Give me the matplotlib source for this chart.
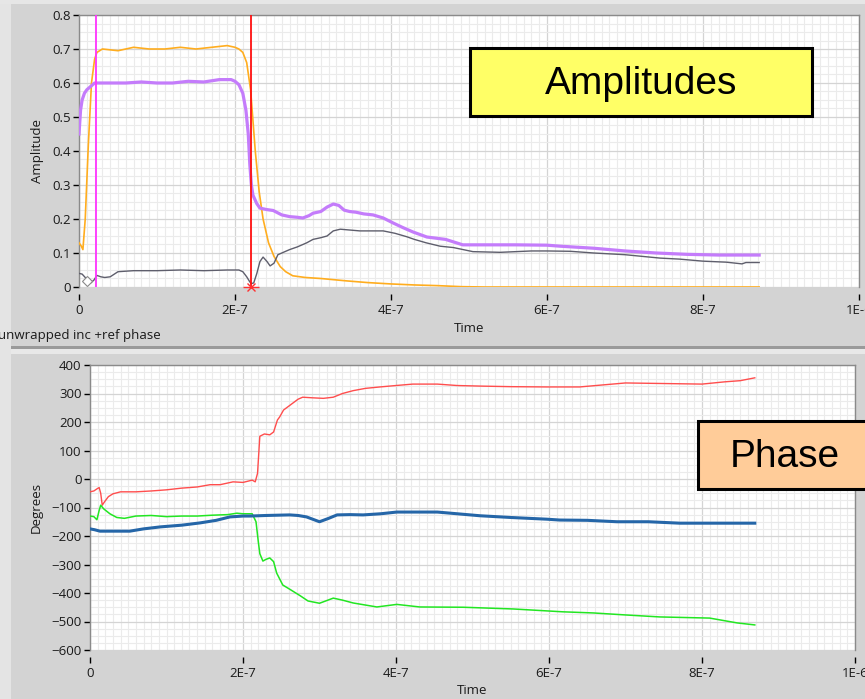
import matplotlib.pyplot as plt
import numpy as np
from matplotlib.patches import Rectangle
from matplotlib.ticker import MultipleLocator

# ---- amplitude traces (time in ns) ----
t_orange = [0, 3, 5, 8, 12, 16, 20, 23, 30, 50, 70, 90, 110, 130, 150, 170, 190, 200, 205,
            210, 215, 220, 226, 231, 236, 243, 250, 258, 265, 274, 290, 310, 343, 370, 400,
            430, 460, 490, 520, 872]
amp_orange = [0.13, 0.12, 0.11, 0.2, 0.42, 0.6, 0.67, 0.69, 0.70, 0.695, 0.705, 0.70, 0.70,
              0.705, 0.70, 0.705, 0.71, 0.705, 0.70, 0.69, 0.66, 0.58, 0.40, 0.28, 0.20, 0.13,
              0.09, 0.06, 0.045, 0.033, 0.028, 0.025, 0.018, 0.013, 0.009, 0.006, 0.004,
              0.001, 0.0, 0.0]

t_purple = [0, 2, 4, 7, 10, 15, 20, 25, 40, 60, 80, 100, 120, 140, 160, 180, 195, 200, 205,
            210, 214, 217, 219, 221, 223, 228, 232, 240, 249, 260, 270, 280, 287, 295, 300,
            310, 318, 326, 333, 340, 347, 355, 365, 377, 390, 403, 415, 428, 446, 470, 492,
            520, 560, 600, 617, 660, 700, 740, 780, 820, 872]
amp_purple = [0.45, 0.52, 0.55, 0.57, 0.58, 0.59, 0.60, 0.60, 0.60, 0.60, 0.603, 0.60, 0.60,
              0.605, 0.603, 0.61, 0.61, 0.605, 0.595, 0.57, 0.52, 0.45, 0.36, 0.30, 0.27,
              0.245, 0.232, 0.228, 0.225, 0.212, 0.207, 0.205, 0.203, 0.21, 0.217, 0.222,
              0.235, 0.244, 0.24, 0.226, 0.222, 0.22, 0.215, 0.212, 0.203, 0.188, 0.175,
              0.162, 0.147, 0.14, 0.124, 0.124, 0.124, 0.123, 0.12, 0.114, 0.106, 0.1,
              0.096, 0.094, 0.094]

t_gray = [0, 4, 8, 12, 15, 19, 23, 28, 33, 40, 50, 70, 100, 130, 160, 190, 205, 210, 215,
          219, 221, 224, 228, 232, 236, 241, 245, 250, 255, 260, 270, 280, 292, 300, 310,
          318, 326, 335, 345, 360, 375, 390, 405, 420, 430, 445, 463, 480, 505, 540, 580,
          600, 630, 660, 700, 745, 770, 800, 830, 850, 855, 872]
amp_gray = [0.04, 0.038, 0.028, 0.015, 0.012, 0.02, 0.034, 0.03, 0.028, 0.03, 0.045, 0.048,
            0.048, 0.05, 0.048, 0.05, 0.05, 0.045, 0.03, 0.015, 0.01, 0.012, 0.04, 0.075,
            0.088, 0.075, 0.062, 0.07, 0.095, 0.10, 0.11, 0.118, 0.13, 0.14, 0.145, 0.15,
            0.165, 0.17, 0.168, 0.165, 0.165, 0.165, 0.158, 0.148, 0.14, 0.13, 0.12, 0.116,
            0.104, 0.102, 0.106, 0.106, 0.105, 0.1, 0.095, 0.085, 0.082, 0.076, 0.073,
            0.068, 0.072, 0.072]

# cursor positions (ns)
cursor_magenta = 22
cursor_red = 220

# ---- phase traces (time in ns, degrees) ----
t_red = [0, 5, 10, 12, 14, 16, 19, 24, 30, 40, 60, 80, 100, 120, 140, 157, 170, 187, 200,
         212, 216, 219, 222, 228, 235, 240, 245, 248, 253, 261, 266, 272, 278, 290, 305,
         318, 330, 344, 360, 379, 400, 422, 454, 480, 510, 550, 597, 640, 700, 750, 800,
         830, 850, 869]
deg_red = [-45, -42, -33, -30, -50, -92, -80, -62, -52, -45, -45, -42, -38, -32, -28, -20,
           -20, -10, -12, -4, -10, 20, 150, 158, 155, 165, 207, 218, 242, 258, 268, 280,
           287, 285, 283, 287, 300, 310, 318, 323, 328, 333, 333, 328, 326, 324, 323, 323,
           337, 335, 333, 341, 345, 355]

t_green = [0, 5, 9, 12, 14, 18, 26, 35, 45, 60, 80, 100, 120, 140, 160, 180, 192, 200, 212,
           217, 220, 222, 226, 230, 235, 240, 244, 252, 260, 266, 275, 285, 300, 318, 330,
           344, 375, 401, 431, 488, 553, 618, 658, 700, 745, 810, 846, 869]
deg_green = [-130, -132, -143, -110, -92, -105, -122, -135, -138, -130, -128, -132, -130,
             -130, -127, -125, -120, -122, -122, -150, -220, -262, -288, -282, -277, -290,
             -330, -372, -385, -395, -410, -428, -436, -418, -425, -435, -449, -440, -449,
             -450, -456, -466, -470, -477, -484, -488, -505, -512]

t_blue = [0, 6, 13, 30, 52, 70, 92, 120, 144, 165, 183, 200, 209, 230, 261, 272, 283, 292,
          300, 312, 323, 340, 357, 380, 401, 430, 454, 480, 510, 550, 597, 614, 650, 689,
          730, 771, 800, 869]
deg_blue = [-175, -178, -183, -183, -183, -175, -168, -162, -154, -145, -133, -130, -130,
            -128, -126, -128, -133, -142, -150, -138, -126, -125, -126, -122, -116, -116,
            -116, -122, -129, -135, -141, -144, -145, -150, -150, -155, -155, -155]

x_ticks = [0, 2e-7, 4e-7, 6e-7, 8e-7, 1e-6]
x_ticklabels = ['0', '2E-7', '4E-7', '6E-7', '8E-7', '1E-6']
amp_ticks = [0, 0.1, 0.2, 0.3, 0.4, 0.5, 0.6, 0.7, 0.8]
amp_ticklabels = ['0', '0.1', '0.2', '0.3', '0.4', '0.5', '0.6', '0.7', '0.8']
deg_ticks = [-600, -500, -400, -300, -200, -100, 0, 100, 200, 300, 400]

W, H = 865, 699
plt.rcParams['font.family'] = ['Open Sans', 'DejaVu Sans']
fig = plt.figure(figsize=(W / 100, H / 100), dpi=100, facecolor='#d3d3d3')


def px_rect(x0, y0, x1, y1, **kw):
    # rectangle given in pixel coords (origin top-left)
    r = Rectangle((x0 / W, 1 - y1 / H), (x1 - x0) / W, (y1 - y0) / H,
                  transform=fig.transFigure, **kw)
    fig.add_artist(r)
    return r


# panel chrome
px_rect(0, 0, 11, H, facecolor='#e4e4e4', edgecolor='none', zorder=0)
px_rect(0, 0, W, 4, facecolor='#e6e6e6', edgecolor='none', zorder=0)
px_rect(11, 346, W, 349, facecolor='#9a9a9a', edgecolor='none', zorder=0)
px_rect(11, 349, W, 354, facecolor='#e8e8e8', edgecolor='none', zorder=0)


def style_axes(ax):
    ax.set_facecolor('white')
    ax.xaxis.set_minor_locator(MultipleLocator(1e-8))
    ax.grid(which='major', color='#d4d4d4', lw=0.9)
    ax.grid(which='minor', color='#ebebeb', lw=0.8)
    ax.set_axisbelow(True)
    for s in ['top', 'right', 'left']:
        ax.spines[s].set_color('#8a8a8a')
        ax.spines[s].set_linewidth(1.0)
    ax.spines['bottom'].set_position(('outward', 5))
    ax.spines['bottom'].set_visible(False)
    ax.set_xticks(x_ticks)
    ax.set_xticklabels(x_ticklabels)
    ax.set_xlim(0, 1e-6)
    ax.tick_params(axis='both', which='major', labelsize=9.5, color='black',
                   direction='out', length=4, width=1, pad=2, labelcolor='#1a1a1a')
    ax.tick_params(axis='both', which='minor', length=0)
    ax.tick_params(axis='x', length=4, pad=3)


ns = 1e-9

# ---- amplitude panel ----
ax1 = fig.add_axes([79 / W, 1 - 287 / H, 780 / W, 272 / H])
style_axes(ax1)
ax1.set_ylim(0, 0.8)
ax1.set_yticks(amp_ticks)
ax1.set_yticklabels(amp_ticklabels)
ax1.yaxis.set_minor_locator(MultipleLocator(0.025))

ax1.plot(np.array(t_orange) * ns, amp_orange, color='#ffad1f', lw=1.2, zorder=3)
ax1.plot(np.array(t_gray) * ns, amp_gray, color='#5e5e6c', lw=1.0, zorder=3)
ax1.plot(np.array(t_purple) * ns, amp_purple, color='#c47cfb', lw=2.3, zorder=4)
ax1.axvline(cursor_magenta * ns, color='#ff33ff', lw=1.3, zorder=5)
ax1.axvline(cursor_red * ns, color='#ff1010', lw=1.3, zorder=5)
ax1.plot([cursor_red * ns], [0], marker='x', ms=6, mew=1, color='#ff3030', clip_on=False, zorder=6)
ax1.plot([cursor_red * ns], [0], marker='_', ms=11, mew=1, color='#ff3030', clip_on=False, zorder=6)
ax1.plot([10 * ns], [0.018], marker='D', ms=5, mfc='white', mec='#888888', mew=0.8, zorder=6)

ax1.set_ylabel('Amplitude', fontsize=9.5, color='#1a1a1a', labelpad=6)
ax1.set_xlabel('Time', fontsize=9.5, color='#1a1a1a', labelpad=4)

# ---- phase panel ----
ax2 = fig.add_axes([90 / W, 1 - 650 / H, 765 / W, 285 / H])
style_axes(ax2)
ax2.set_ylim(-600, 400)
ax2.set_yticks(deg_ticks)
ax2.yaxis.set_minor_locator(MultipleLocator(25))

ax2.plot(np.array(t_red) * ns, deg_red, color='#ff4d4d', lw=1.0, zorder=3)
ax2.plot(np.array(t_green) * ns, deg_green, color='#22e622', lw=1.1, zorder=3)
ax2.plot(np.array(t_blue) * ns, deg_blue, color='#2566a8', lw=2.2, zorder=3)

ax2.set_ylabel('Degrees', fontsize=9.5, color='#1a1a1a', labelpad=6)
ax2.set_xlabel('Time', fontsize=9.5, color='#1a1a1a', labelpad=3)

fig.text(-2 / W, 1 - 336 / H, 'unwrapped inc +ref phase', fontsize=9.5,
         color='#1a1a1a', ha='left', va='center')

# ---- title boxes ----
px_rect(470, 48, 812, 116, facecolor='#ffff66', edgecolor='black', lw=2.2, zorder=10)
fig.text(641 / W, 1 - 84 / H, 'Amplitudes', fontsize=28, family='Liberation Sans',
         ha='center', va='center', zorder=11)
px_rect(698, 421, 870, 489, facecolor='#ffcc99', edgecolor='black', lw=2.2, zorder=10)
fig.text(730 / W, 1 - 457 / H, 'Phase', fontsize=28, family='Liberation Sans',
         ha='left', va='center', zorder=11)

fig.savefig('out.png', dpi=100, facecolor=fig.get_facecolor())
